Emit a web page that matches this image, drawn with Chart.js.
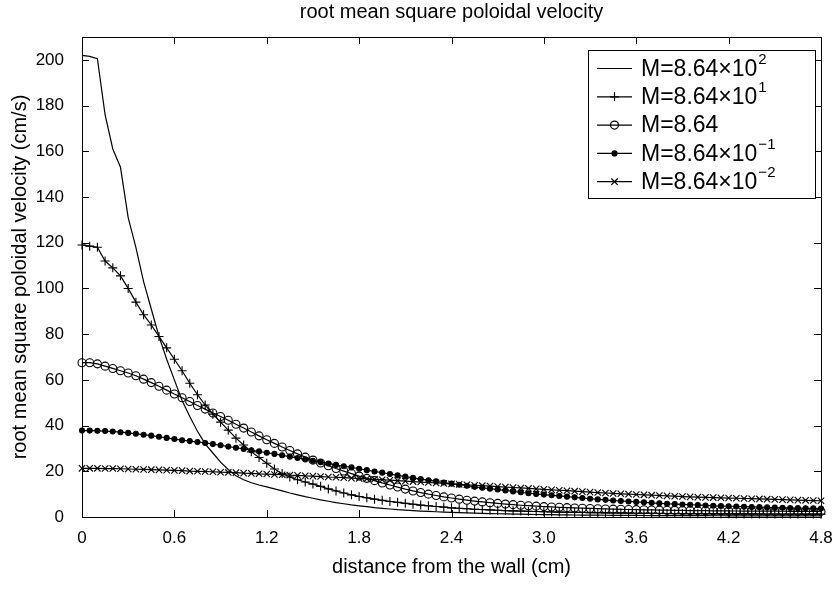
<!DOCTYPE html>
<html>
<head>
<meta charset="utf-8">
<script src="https://cdn.jsdelivr.net/npm/chart.js@4"></script>
<style>
  body { margin: 0; background: #fff; }
  #wrap { width: 839px; height: 608px; }
</style>
</head>
<body>
<div id="wrap"><canvas id="myChart" width="839" height="608"></canvas></div>
<script>
// distance from the wall (cm)
const distance = [
  0, 0.05, 0.1, 0.15, 0.2, 0.25, 0.3, 0.35, 0.4, 0.45,
  0.5, 0.55, 0.6, 0.65, 0.7, 0.75, 0.8, 0.85, 0.9, 0.95,
  1.0, 1.05, 1.1, 1.15, 1.2, 1.25, 1.3, 1.35, 1.4, 1.45,
  1.5, 1.55, 1.6, 1.65, 1.7, 1.75, 1.8, 1.85, 1.9, 1.95,
  2.0, 2.05, 2.1, 2.15, 2.2, 2.25, 2.3, 2.35, 2.4, 2.45,
  2.5, 2.55, 2.6, 2.65, 2.7, 2.75, 2.8, 2.85, 2.9, 2.95,
  3.0, 3.05, 3.1, 3.15, 3.2, 3.25, 3.3, 3.35, 3.4, 3.45,
  3.5, 3.55, 3.6, 3.65, 3.7, 3.75, 3.8, 3.85, 3.9, 3.95,
  4.0, 4.05, 4.1, 4.15, 4.2, 4.25, 4.3, 4.35, 4.4, 4.45,
  4.5, 4.55, 4.6, 4.65, 4.7, 4.75, 4.8
];

// rms poloidal velocity (cm/s), one list per M
const m864 = [
  202, 201.5, 200.5, 176, 161, 153, 131, 118, 103, 91,
  79, 69, 60, 51, 44, 37.5, 32, 28, 24, 20.8,
  18, 16.3, 15, 14, 13.2, 12.3, 11.4, 10.5, 9.7, 8.9,
  8.2, 7.5, 6.9, 6.3, 5.8, 5.3, 4.9, 4.5, 4.1, 3.8,
  3.5, 3.2, 3.0, 2.8, 2.6, 2.45, 2.3, 2.15, 2.0, 1.9,
  1.8, 1.7, 1.6, 1.5, 1.42, 1.35, 1.28, 1.22, 1.16, 1.1,
  1.05, 1.0, 0.96, 0.92, 0.88, 0.85, 0.82, 0.79, 0.76, 0.74,
  0.72, 0.7, 0.68, 0.66, 0.64, 0.63, 0.62, 0.6, 0.59, 0.58,
  0.57, 0.56, 0.55, 0.54, 0.53, 0.52, 0.51, 0.5, 0.5, 0.49,
  0.48, 0.48, 0.47, 0.47, 0.46, 0.46, 0.45
];
const m86_4 = [
  119, 118.5, 118, 112, 109, 105.5, 100, 94, 88.5, 84,
  79, 74, 69, 64, 58.5, 53.5, 49, 45, 41.5, 38,
  34.5, 31.5, 28.5, 26, 23.5, 21, 19, 17.5, 16.3, 15.3,
  14.4, 13.4, 12.3, 11.4, 10.5, 9.7, 9.0, 8.4, 7.8, 7.3,
  6.8, 6.4, 6.0, 5.6, 5.2, 4.9, 4.6, 4.3, 4.0, 3.8,
  3.6, 3.4, 3.25, 3.1, 2.95, 2.8, 2.7, 2.6, 2.5, 2.4,
  2.3, 2.22, 2.15, 2.08, 2.02, 1.96, 1.9, 1.85, 1.8, 1.76,
  1.72, 1.68, 1.64, 1.61, 1.58, 1.55, 1.52, 1.5, 1.48, 1.46,
  1.44, 1.42, 1.4, 1.38, 1.37, 1.36, 1.35, 1.34, 1.33, 1.32,
  1.31, 1.3, 1.29, 1.28, 1.27, 1.26, 1.25
];
const m8_64 = [
  67.5, 67.5, 67, 66, 65, 64, 63, 61.8, 60.3, 58.8,
  57.2, 55.5, 53.8, 52.2, 50.5, 48.8, 47.2, 45.5, 44, 42.3,
  40.6, 38.9, 37.2, 35.5, 33.8, 32.2, 30.6, 29.1, 27.6, 26.2,
  24.9, 23.6, 22.4, 21.2, 20.1, 19, 17.9, 16.9, 15.9, 14.9,
  14.0, 13.1, 12.2, 11.4, 10.7, 10.0, 9.4, 8.8, 8.3, 7.8,
  7.35, 6.95, 6.6, 6.25, 5.95, 5.65, 5.4, 5.15, 4.95, 4.75,
  4.55, 4.4, 4.25, 4.1, 3.97, 3.85, 3.74, 3.63, 3.53, 3.44,
  3.36, 3.28, 3.21, 3.14, 3.08, 3.02, 2.97, 2.92, 2.87, 2.83,
  2.79, 2.75, 2.72, 2.69, 2.66, 2.63, 2.61, 2.59, 2.57, 2.55,
  2.53, 2.51, 2.5, 2.49, 2.48, 2.47, 2.46
];
const m0_864 = [
  37.8, 37.8, 37.7, 37.6, 37.4, 37.1, 36.8, 36.4, 36, 35.6,
  35.1, 34.6, 34.1, 33.6, 33.2, 32.8, 32.4, 31.9, 31.4, 30.8,
  30.3, 29.8, 29.2, 28.7, 28.1, 27.6, 27.0, 26.4, 25.8, 25.2,
  24.6, 24.0, 23.4, 22.8, 22.2, 21.7, 21.1, 20.5, 19.9, 19.4,
  18.8, 18.2, 17.7, 17.1, 16.6, 16.1, 15.6, 15.1, 14.6, 14.1,
  13.7, 13.2, 12.8, 12.4, 12.0, 11.6, 11.2, 10.8, 10.4, 10.1,
  9.8, 9.5, 9.2, 8.9, 8.6, 8.3, 8.0, 7.7, 7.5, 7.2,
  7.0, 6.8, 6.6, 6.4, 6.2, 6.0, 5.8, 5.65, 5.5, 5.35,
  5.2, 5.05, 4.9, 4.8, 4.7, 4.6, 4.5, 4.4, 4.3, 4.2,
  4.1, 4.02, 3.95, 3.88, 3.82, 3.76, 3.7
];
const m0_0864 = [
  21.3, 21.3, 21.3, 21.2, 21.2, 21.1, 21.0, 20.9, 20.8, 20.7,
  20.6, 20.5, 20.4, 20.3, 20.1, 20.0, 19.9, 19.8, 19.6, 19.5,
  19.4, 19.2, 19.1, 18.9, 18.8, 18.6, 18.5, 18.3, 18.2, 18.0,
  17.9, 17.7, 17.5, 17.4, 17.2, 17.0, 16.9, 16.7, 16.5, 16.3,
  16.1, 15.9, 15.7, 15.5, 15.3, 15.1, 14.9, 14.7, 14.5, 14.3,
  14.1, 13.9, 13.7, 13.5, 13.3, 13.1, 12.9, 12.7, 12.5, 12.3,
  12.1, 11.9, 11.7, 11.5, 11.3, 11.1, 10.9, 10.7, 10.5, 10.3,
  10.15, 10.0, 9.85, 9.7, 9.55, 9.4, 9.25, 9.1, 8.95, 8.8,
  8.7, 8.6, 8.5, 8.4, 8.3, 8.2, 8.1, 8.0, 7.9, 7.8,
  7.7, 7.6, 7.5, 7.4, 7.3, 7.2, 7.1
];

const xTicks = [0, 0.6, 1.2, 1.8, 2.4, 3.0, 3.6, 4.2, 4.8];
const xTickLabels = ['0', '0.6', '1.2', '1.8', '2.4', '3.0', '3.6', '4.2', '4.8'];
const yTicks = [0, 20, 40, 60, 80, 100, 120, 140, 160, 180, 200];

// legend text: base + superscript exponent
const legendBase = ['M=8.64\u00d710', 'M=8.64\u00d710', 'M=8.64', 'M=8.64\u00d710', 'M=8.64\u00d710'];
const legendSup = ['2', '1', '', '\u22121', '\u22122'];

const FONT = '"Liberation Sans", Arial, Helvetica, sans-serif';

function pts(ys) {
  return distance.map((x, i) => ({x: x, y: ys[i]}));
}

function series(ys, style, r, fill) {
  return {
    data: pts(ys),
    borderColor: '#000',
    borderWidth: 1.2,
    pointStyle: style,
    pointRadius: style ? r : 0,
    pointBorderColor: '#000',
    pointBorderWidth: 1.1,
    pointBackgroundColor: fill ? '#000' : 'rgba(0,0,0,0)',
    tension: 0,
    clip: false
  };
}

// little marker painter for the legend
function marker(ctx, style, x, y, r, fill) {
  ctx.beginPath();
  if (style === 'cross') {
    ctx.moveTo(x - r, y); ctx.lineTo(x + r, y);
    ctx.moveTo(x, y - r); ctx.lineTo(x, y + r);
    ctx.stroke();
  } else if (style === 'crossRot') {
    let d = r * 0.7071;
    ctx.moveTo(x - d, y - d); ctx.lineTo(x + d, y + d);
    ctx.moveTo(x - d, y + d); ctx.lineTo(x + d, y - d);
    ctx.stroke();
  } else if (style === 'circle') {
    ctx.arc(x, y, r, 0, Math.PI * 2);
    if (fill) { ctx.fill(); }
    ctx.stroke();
  }
}

const frameTicks = {
  id: 'frameTicks',
  afterDatasetsDraw(chart) {
    const ctx = chart.ctx;
    const a = chart.chartArea;
    const xs = chart.scales.x, ys = chart.scales.y;
    const L = 7;
    ctx.save();
    ctx.strokeStyle = '#000';
    ctx.lineWidth = 1;
    ctx.beginPath();
    xTicks.forEach(v => {
      let px = Math.round(xs.getPixelForValue(v)) + 0.5;
      ctx.moveTo(px, a.bottom); ctx.lineTo(px, a.bottom - L);
      ctx.moveTo(px, a.top); ctx.lineTo(px, a.top + L);
    });
    yTicks.forEach(v => {
      let py = Math.round(ys.getPixelForValue(v)) + 0.5;
      ctx.moveTo(a.left, py); ctx.lineTo(a.left + L, py);
      ctx.moveTo(a.right, py); ctx.lineTo(a.right - L, py);
    });
    ctx.stroke();
    ctx.strokeRect(Math.round(a.left) + 0.5, Math.round(a.top) + 0.5,
      Math.round(a.right - a.left), Math.round(a.bottom - a.top));
    ctx.restore();
  }
};

const boxLegend = {
  id: 'boxLegend',
  afterDraw(chart) {
    const ctx = chart.ctx;
    const bx = 588.5, by = 50.5, bw = 227, bh = 148;
    ctx.save();
    ctx.fillStyle = '#fff';
    ctx.fillRect(bx, by, bw, bh);
    ctx.strokeStyle = '#000';
    ctx.lineWidth = 1;
    ctx.strokeRect(bx, by, bw, bh);
    chart.data.datasets.forEach((ds, i) => {
      let cy = 68.5 + i * 28.3;
      ctx.strokeStyle = '#000';
      ctx.fillStyle = '#000';
      ctx.lineWidth = 1.2;
      ctx.beginPath();
      ctx.moveTo(597, cy); ctx.lineTo(632, cy);
      ctx.stroke();
      if (ds.pointRadius > 0) {
        marker(ctx, ds.pointStyle, 614.5, cy, ds.pointRadius, ds.pointBackgroundColor === '#000');
      }
      ctx.fillStyle = '#000';
      ctx.textBaseline = 'middle';
      ctx.textAlign = 'left';
      ctx.font = '23px ' + FONT;
      ctx.fillText(legendBase[i], 641, cy + 1);
      let w = ctx.measureText(legendBase[i]).width;
      if (legendSup[i]) {
        ctx.font = '15px ' + FONT;
        ctx.fillText(legendSup[i], 641 + w + 1, cy - 9);
      }
    });
    ctx.restore();
  }
};

new Chart(document.getElementById('myChart'), {
  type: 'line',
  data: {
    datasets: [
      series(m864, false, 0, false),
      series(m86_4, 'cross', 4.5, false),
      series(m8_64, 'circle', 4, false),
      series(m0_864, 'circle', 2.5, true),
      series(m0_0864, 'crossRot', 4.5, false)
    ]
  },
  options: {
    responsive: false,
    animation: false,
    layout: {padding: {left: 0, right: 18, top: 0, bottom: 0}},
    plugins: {
      legend: {display: false},
      tooltip: {enabled: false},
      title: {
        display: true,
        text: 'root mean square poloidal velocity',
        color: '#000',
        fullSize: false,
        font: {family: FONT, size: 20, weight: 'normal'},
        padding: {top: 0, bottom: 13}
      }
    },
    scales: {
      x: {
        type: 'linear',
        min: 0,
        max: 4.8,
        grid: {display: false},
        border: {display: false},
        afterBuildTicks: s => { s.ticks = xTicks.map(v => ({value: v})); },
        afterFit: s => { s.height = 91; },
        ticks: {
          color: '#000',
          padding: 3,
          maxRotation: 0,
          font: {family: FONT, size: 17},
          callback: (v, i) => xTickLabels[i]
        },
        title: {
          display: true,
          text: 'distance from the wall (cm)',
          color: '#000',
          font: {family: FONT, size: 20},
          padding: {top: 0, bottom: 29}
        }
      },
      y: {
        type: 'linear',
        min: 0,
        max: 210,
        grid: {display: false},
        border: {display: false},
        afterBuildTicks: s => { s.ticks = yTicks.map(v => ({value: v})); },
        afterFit: s => { s.width = 82; },
        ticks: {
          color: '#000',
          padding: 10,
          font: {family: FONT, size: 17},
          callback: v => String(v)
        },
        title: {
          display: true,
          text: 'root mean square poloidal velocity (cm/s)',
          color: '#000',
          font: {family: FONT, size: 20},
          padding: {top: 8, bottom: 0}
        }
      }
    }
  },
  plugins: [frameTicks, boxLegend]
});
</script>
</body>
</html>
